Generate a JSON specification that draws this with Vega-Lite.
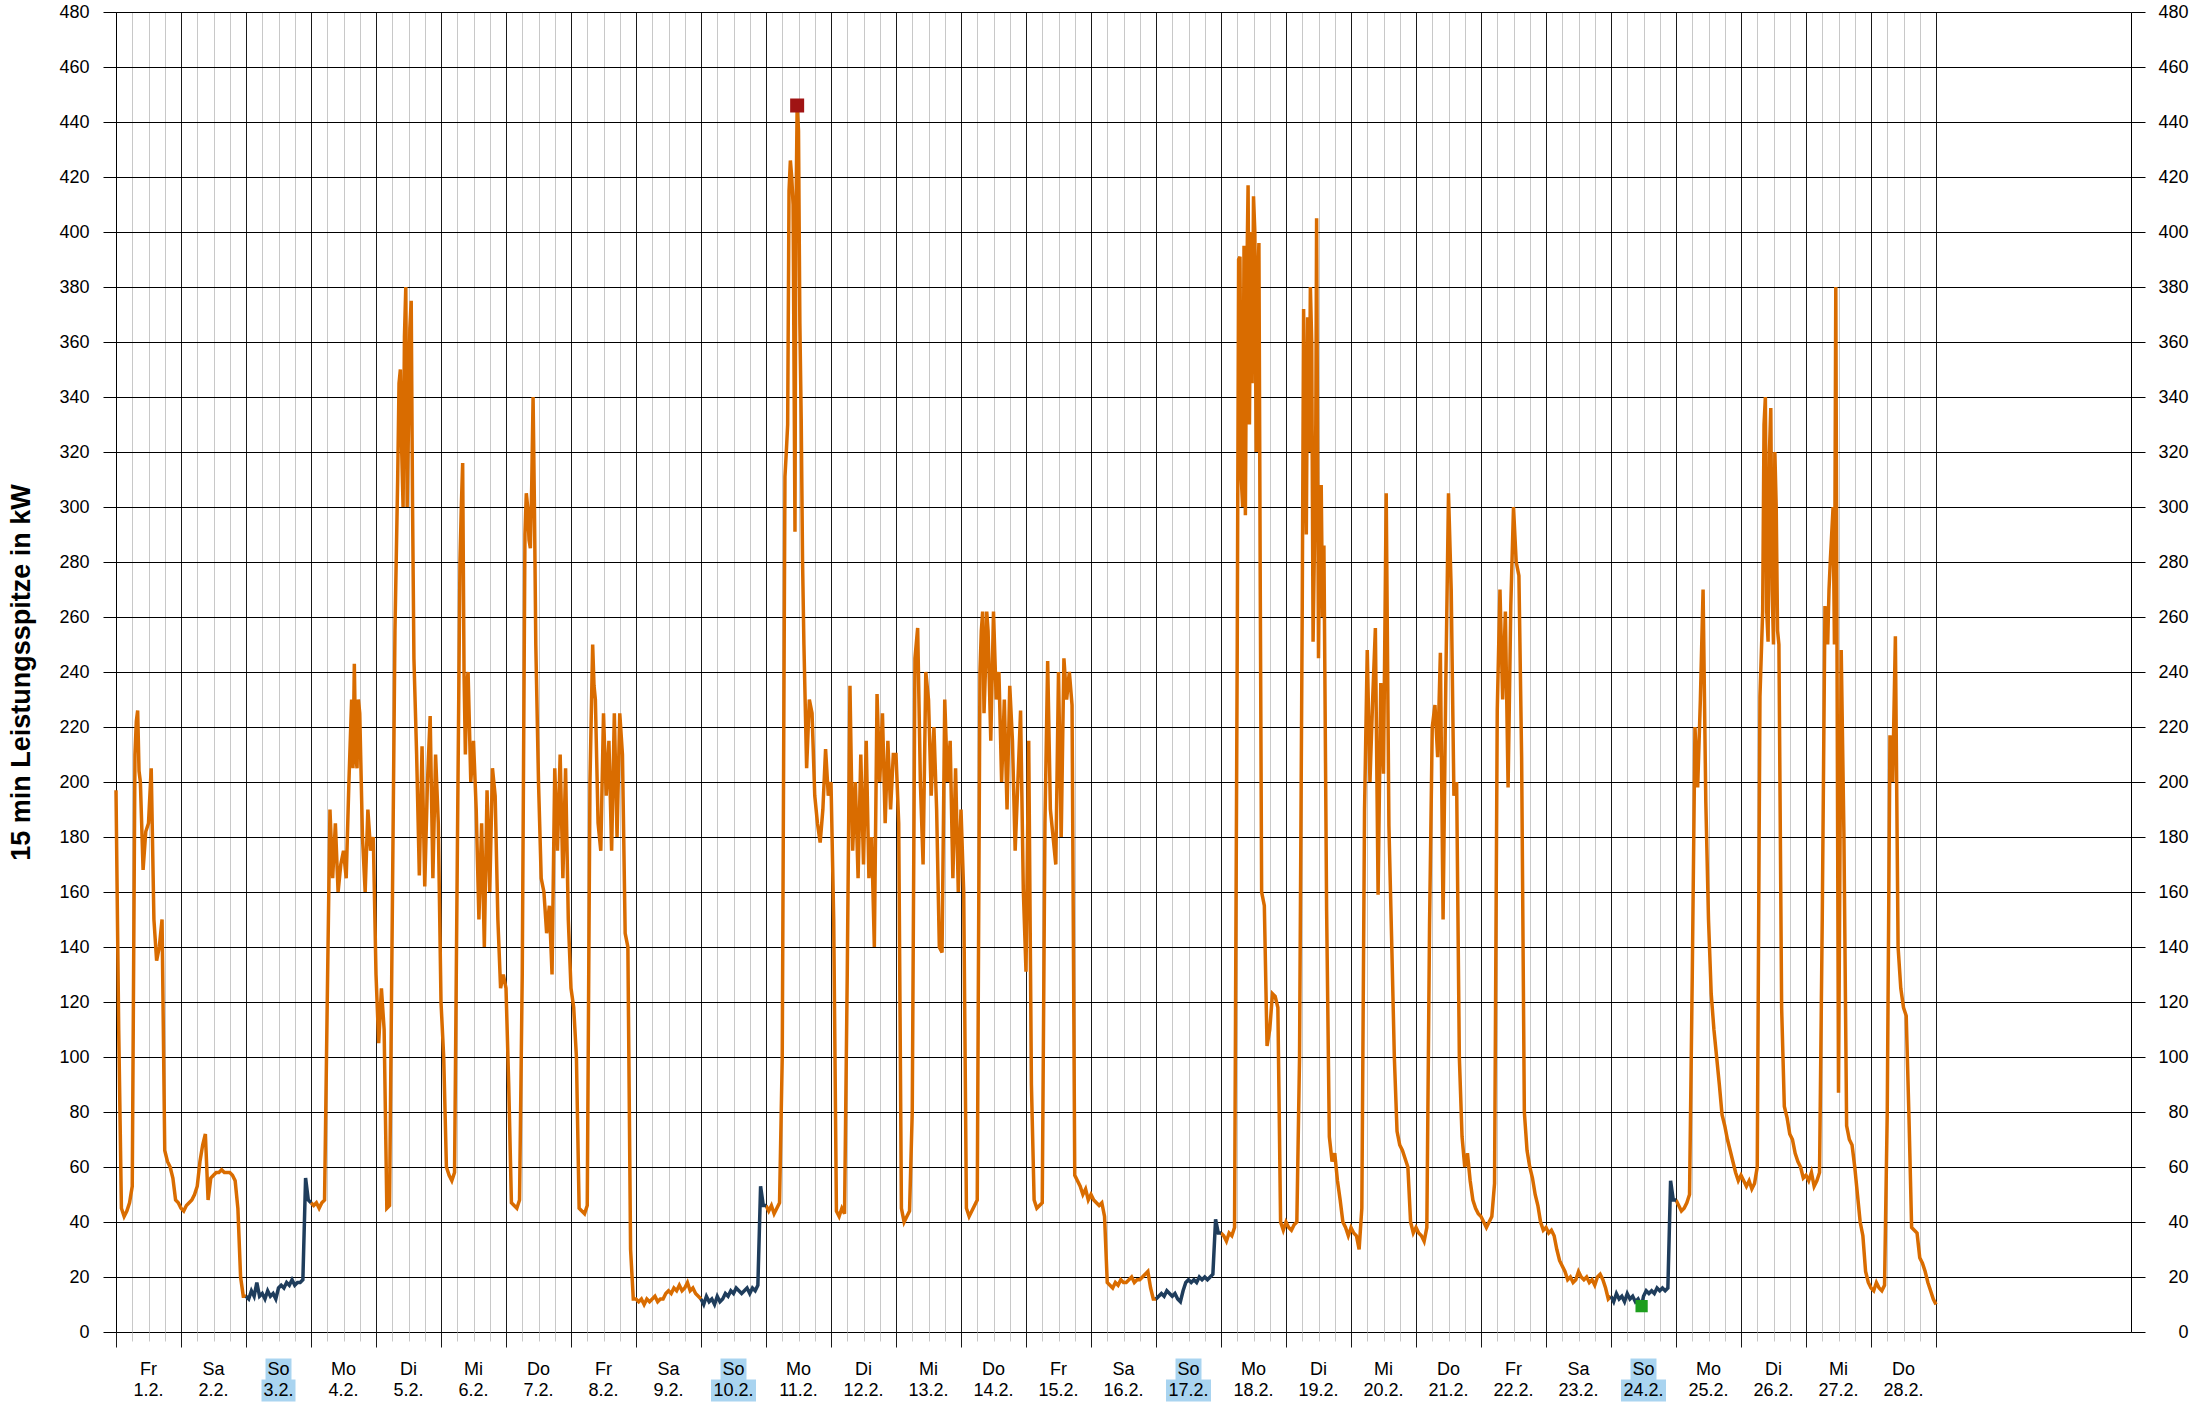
{
"$schema": "https://vega.github.io/schema/vega-lite/v6.json",
"background": "white",
"padding": {"left": 7, "top": 3, "right": 5, "bottom": 0},
"config": {"view": {"stroke": null}, "font": "Liberation Sans", "text": {"font": "Liberation Sans"}, "axis": {"labelFont": "Liberation Sans", "titleFont": "Liberation Sans"}},
"spacing": 10,
"datasets": {
"p": [
{"t":0,"v":197},{"t":1,"v":110},{"t":2,"v":45},{"t":3,"v":42},{"t":4,"v":44},{"t":5,"v":47},{"t":6,"v":53},{"t":7,"v":210},{"t":7.5,"v":222},{"t":8,"v":226},{"t":8.5,"v":204},{"t":9,"v":200},{"t":10,"v":168},{"t":11,"v":182},{"t":12,"v":185},{"t":13,"v":205},{"t":14,"v":150},{"t":15,"v":135},{"t":16,"v":140},{"t":17,"v":150},{"t":18,"v":66},{"t":19,"v":62},{"t":20,"v":60},{"t":21,"v":56},{"t":22,"v":48},{"t":23,"v":47},
{"t":24,"v":45},{"t":25,"v":44},{"t":26,"v":46},{"t":27,"v":47},{"t":28,"v":48},{"t":29,"v":50},{"t":30,"v":53},{"t":31,"v":62},{"t":32,"v":68},{"t":33,"v":72},{"t":34,"v":48},{"t":35,"v":56},{"t":36,"v":57},{"t":37,"v":58},{"t":38,"v":58},{"t":39,"v":59},{"t":40,"v":58},{"t":41,"v":58},{"t":42,"v":58},{"t":43,"v":57},{"t":44,"v":55},{"t":45,"v":45},{"t":46,"v":20},{"t":47,"v":13},
{"t":48,"v":13},{"t":49,"v":12},{"t":50,"v":15},{"t":51,"v":13},{"t":52,"v":18},{"t":53,"v":13},{"t":54,"v":14},{"t":55,"v":12},{"t":56,"v":15},{"t":57,"v":13},{"t":58,"v":14},{"t":59,"v":12},{"t":60,"v":16},{"t":61,"v":17},{"t":62,"v":16},{"t":63,"v":18},{"t":64,"v":17},{"t":65,"v":19},{"t":66,"v":17},{"t":67,"v":18},{"t":68,"v":18},{"t":69,"v":19},{"t":70,"v":56},{"t":71,"v":48},
{"t":72,"v":47},{"t":73,"v":46},{"t":74,"v":47},{"t":75,"v":45},{"t":76,"v":47},{"t":77,"v":48},{"t":78,"v":120},{"t":79,"v":190},{"t":80,"v":165},{"t":81,"v":185},{"t":82,"v":160},{"t":83,"v":170},{"t":84,"v":175},{"t":85,"v":165},{"t":86,"v":200},{"t":87,"v":230},{"t":87.5,"v":205},{"t":88,"v":243},{"t":88.5,"v":210},{"t":89,"v":205},{"t":89.5,"v":230},{"t":90,"v":225},{"t":91,"v":180},{"t":92,"v":160},{"t":93,"v":190},{"t":94,"v":175},{"t":95,"v":180},
{"t":96,"v":130},{"t":97,"v":105},{"t":98,"v":125},{"t":99,"v":110},{"t":100,"v":45},{"t":101,"v":46},{"t":102,"v":150},{"t":103,"v":255},{"t":104,"v":310},{"t":104.5,"v":345},{"t":105,"v":350},{"t":105.5,"v":320},{"t":106,"v":300},{"t":106.5,"v":362},{"t":107,"v":380},{"t":107.5,"v":300},{"t":108,"v":330},{"t":108.5,"v":365},{"t":109,"v":375},{"t":109.5,"v":300},{"t":110,"v":245},{"t":111,"v":210},{"t":112,"v":166},{"t":113,"v":213},{"t":114,"v":162},{"t":115,"v":200},{"t":116,"v":224},{"t":117,"v":165},{"t":118,"v":210},{"t":119,"v":185},
{"t":120,"v":120},{"t":121,"v":100},{"t":122,"v":60},{"t":123,"v":57},{"t":124,"v":55},{"t":125,"v":58},{"t":126,"v":170},{"t":127,"v":280},{"t":127.5,"v":300},{"t":128,"v":316},{"t":128.5,"v":240},{"t":129,"v":210},{"t":129.5,"v":235},{"t":130,"v":240},{"t":131,"v":200},{"t":132,"v":215},{"t":133,"v":190},{"t":134,"v":150},{"t":135,"v":185},{"t":136,"v":140},{"t":137,"v":197},{"t":138,"v":160},{"t":139,"v":205},{"t":140,"v":195},{"t":141,"v":150},{"t":142,"v":125},{"t":143,"v":130},
{"t":144,"v":125},{"t":145,"v":90},{"t":146,"v":47},{"t":147,"v":46},{"t":148,"v":45},{"t":149,"v":48},{"t":150,"v":130},{"t":151,"v":290},{"t":151.5,"v":305},{"t":152,"v":300},{"t":152.5,"v":288},{"t":153,"v":285},{"t":153.5,"v":308},{"t":154,"v":340},{"t":154.5,"v":300},{"t":155,"v":250},{"t":156,"v":200},{"t":157,"v":165},{"t":158,"v":160},{"t":159,"v":145},{"t":160,"v":155},{"t":161,"v":130},{"t":162,"v":205},{"t":163,"v":175},{"t":164,"v":210},{"t":165,"v":165},{"t":166,"v":205},{"t":167,"v":150},
{"t":168,"v":125},{"t":169,"v":118},{"t":170,"v":100},{"t":171,"v":45},{"t":172,"v":44},{"t":173,"v":43},{"t":174,"v":46},{"t":175,"v":200},{"t":176,"v":250},{"t":176.5,"v":235},{"t":177,"v":230},{"t":178,"v":185},{"t":179,"v":175},{"t":180,"v":225},{"t":181,"v":195},{"t":182,"v":215},{"t":183,"v":175},{"t":184,"v":225},{"t":185,"v":180},{"t":186,"v":225},{"t":187,"v":210},{"t":188,"v":145},{"t":189,"v":140},{"t":190,"v":30},{"t":191,"v":12},
{"t":192,"v":12},{"t":193,"v":11},{"t":194,"v":12},{"t":195,"v":10},{"t":196,"v":12},{"t":197,"v":11},{"t":198,"v":12},{"t":199,"v":13},{"t":200,"v":11},{"t":201,"v":12},{"t":202,"v":12},{"t":203,"v":14},{"t":204,"v":15},{"t":205,"v":14},{"t":206,"v":16},{"t":207,"v":15},{"t":208,"v":17},{"t":209,"v":15},{"t":210,"v":16},{"t":211,"v":18},{"t":212,"v":15},{"t":213,"v":16},{"t":214,"v":14},{"t":215,"v":13},
{"t":216,"v":12},{"t":217,"v":10},{"t":218,"v":13},{"t":219,"v":11},{"t":220,"v":12},{"t":221,"v":10},{"t":222,"v":13},{"t":223,"v":11},{"t":224,"v":12},{"t":225,"v":14},{"t":226,"v":13},{"t":227,"v":15},{"t":228,"v":14},{"t":229,"v":16},{"t":230,"v":15},{"t":231,"v":14},{"t":232,"v":15},{"t":233,"v":16},{"t":234,"v":14},{"t":235,"v":16},{"t":236,"v":15},{"t":237,"v":17},{"t":238,"v":53},{"t":239,"v":46},
{"t":240,"v":46},{"t":241,"v":44},{"t":242,"v":46},{"t":243,"v":43},{"t":244,"v":45},{"t":245,"v":47},{"t":246,"v":100},{"t":247,"v":311},{"t":247.5,"v":320},{"t":248,"v":330},{"t":248.5,"v":415},{"t":249,"v":426},{"t":249.5,"v":420},{"t":250,"v":410},{"t":250.7,"v":291},{"t":251,"v":400},{"t":251.5,"v":446},{"t":252,"v":437},{"t":252.5,"v":367},{"t":253,"v":332},{"t":253.5,"v":280},{"t":254,"v":250},{"t":255,"v":205},{"t":256,"v":230},{"t":257,"v":225},{"t":258,"v":195},{"t":259,"v":185},{"t":260,"v":178},{"t":261,"v":190},{"t":262,"v":212},{"t":263,"v":195},
{"t":264,"v":200},{"t":265,"v":150},{"t":266,"v":44},{"t":267,"v":42},{"t":268,"v":45},{"t":269,"v":43},{"t":270,"v":130},{"t":271,"v":235},{"t":272,"v":175},{"t":273,"v":200},{"t":274,"v":165},{"t":275,"v":210},{"t":276,"v":170},{"t":277,"v":215},{"t":278,"v":165},{"t":279,"v":180},{"t":280,"v":140},{"t":281,"v":232},{"t":282,"v":200},{"t":283,"v":225},{"t":284,"v":185},{"t":285,"v":215},{"t":286,"v":190},{"t":287,"v":210},
{"t":288,"v":210},{"t":289,"v":185},{"t":290,"v":45},{"t":291,"v":40},{"t":292,"v":42},{"t":293,"v":44},{"t":294,"v":80},{"t":295,"v":245},{"t":296,"v":256},{"t":297,"v":200},{"t":298,"v":170},{"t":299,"v":240},{"t":300,"v":230},{"t":301,"v":195},{"t":302,"v":220},{"t":303,"v":190},{"t":304,"v":140},{"t":305,"v":138},{"t":306,"v":230},{"t":307,"v":200},{"t":308,"v":215},{"t":309,"v":165},{"t":310,"v":205},{"t":311,"v":160},
{"t":312,"v":190},{"t":313,"v":160},{"t":314,"v":45},{"t":315,"v":42},{"t":316,"v":44},{"t":317,"v":46},{"t":318,"v":48},{"t":319,"v":240},{"t":319.5,"v":255},{"t":320,"v":262},{"t":320.5,"v":225},{"t":321,"v":240},{"t":321.5,"v":262},{"t":322,"v":255},{"t":323,"v":215},{"t":324,"v":262},{"t":325,"v":230},{"t":326,"v":240},{"t":327,"v":200},{"t":328,"v":230},{"t":329,"v":190},{"t":330,"v":235},{"t":331,"v":215},{"t":332,"v":175},{"t":333,"v":200},{"t":334,"v":226},{"t":335,"v":161},
{"t":336,"v":131},{"t":337,"v":215},{"t":338,"v":90},{"t":339,"v":48},{"t":340,"v":45},{"t":341,"v":46},{"t":342,"v":47},{"t":343,"v":185},{"t":344,"v":244},{"t":345,"v":190},{"t":346,"v":180},{"t":347,"v":170},{"t":348,"v":240},{"t":349,"v":180},{"t":350,"v":245},{"t":351,"v":230},{"t":352,"v":240},{"t":353,"v":228},{"t":354,"v":57},{"t":355,"v":55},{"t":356,"v":53},{"t":357,"v":50},{"t":358,"v":52},{"t":359,"v":48},
{"t":360,"v":50},{"t":361,"v":48},{"t":362,"v":47},{"t":363,"v":46},{"t":364,"v":47},{"t":365,"v":42},{"t":366,"v":18},{"t":367,"v":17},{"t":368,"v":16},{"t":369,"v":18},{"t":370,"v":17},{"t":371,"v":19},{"t":372,"v":18},{"t":373,"v":18},{"t":374,"v":19},{"t":375,"v":20},{"t":376,"v":18},{"t":377,"v":19},{"t":378,"v":19},{"t":379,"v":20},{"t":380,"v":21},{"t":381,"v":22},{"t":382,"v":16},{"t":383,"v":12},
{"t":384,"v":12},{"t":385,"v":13},{"t":386,"v":14},{"t":387,"v":13},{"t":388,"v":15},{"t":389,"v":14},{"t":390,"v":13},{"t":391,"v":14},{"t":392,"v":12},{"t":393,"v":11},{"t":394,"v":15},{"t":395,"v":18},{"t":396,"v":19},{"t":397,"v":18},{"t":398,"v":19},{"t":399,"v":18},{"t":400,"v":20},{"t":401,"v":19},{"t":402,"v":20},{"t":403,"v":19},{"t":404,"v":20},{"t":405,"v":21},{"t":406,"v":41},{"t":407,"v":36},
{"t":408,"v":36},{"t":409,"v":35},{"t":410,"v":33},{"t":411,"v":36},{"t":412,"v":35},{"t":413,"v":38},{"t":414,"v":250},{"t":414.5,"v":390},{"t":415,"v":391},{"t":415.5,"v":310},{"t":416,"v":300},{"t":416.5,"v":395},{"t":417,"v":297},{"t":417.5,"v":380},{"t":418,"v":417},{"t":418.5,"v":330},{"t":419,"v":400},{"t":419.5,"v":345},{"t":420,"v":413},{"t":420.5,"v":400},{"t":421,"v":320},{"t":421.5,"v":380},{"t":422,"v":396},{"t":422.5,"v":270},{"t":423,"v":160},{"t":424,"v":155},{"t":425,"v":104},{"t":426,"v":110},{"t":427,"v":123},{"t":428,"v":122},{"t":429,"v":118},{"t":430,"v":40},{"t":431,"v":37},
{"t":432,"v":40},{"t":433,"v":38},{"t":434,"v":37},{"t":435,"v":39},{"t":436,"v":40},{"t":437,"v":100},{"t":438,"v":264},{"t":438.5,"v":372},{"t":439,"v":325},{"t":439.5,"v":290},{"t":440,"v":369},{"t":440.5,"v":320},{"t":441,"v":380},{"t":441.5,"v":360},{"t":442,"v":251},{"t":442.5,"v":286},{"t":443,"v":330},{"t":443.3,"v":405},{"t":444,"v":245},{"t":444.5,"v":300},{"t":445,"v":308},{"t":445.5,"v":260},{"t":446,"v":286},{"t":447,"v":153},{"t":448,"v":71},{"t":449,"v":62},{"t":450,"v":65},{"t":451,"v":55},{"t":452,"v":48},{"t":453,"v":40},{"t":454,"v":38},{"t":455,"v":35},
{"t":456,"v":38},{"t":457,"v":36},{"t":458,"v":35},{"t":459,"v":30},{"t":460,"v":45},{"t":461,"v":190},{"t":462,"v":248},{"t":463,"v":200},{"t":464,"v":230},{"t":465,"v":256},{"t":466,"v":159},{"t":467,"v":236},{"t":468,"v":203},{"t":469,"v":305},{"t":470,"v":184},{"t":471,"v":143},{"t":472,"v":100},{"t":473,"v":73},{"t":474,"v":68},{"t":475,"v":66},{"t":476,"v":63},{"t":477,"v":60},{"t":478,"v":40},{"t":479,"v":36},
{"t":480,"v":38},{"t":481,"v":36},{"t":482,"v":35},{"t":483,"v":33},{"t":484,"v":38},{"t":485,"v":148},{"t":486,"v":220},{"t":487,"v":228},{"t":488,"v":209},{"t":489,"v":247},{"t":490,"v":150},{"t":491,"v":236},{"t":492,"v":305},{"t":493,"v":270},{"t":494,"v":195},{"t":495,"v":200},{"t":496,"v":100},{"t":497,"v":71},{"t":498,"v":60},{"t":499,"v":65},{"t":500,"v":55},{"t":501,"v":48},{"t":502,"v":45},{"t":503,"v":43},
{"t":504,"v":42},{"t":505,"v":40},{"t":506,"v":38},{"t":507,"v":40},{"t":508,"v":42},{"t":509,"v":54},{"t":510,"v":226},{"t":511,"v":270},{"t":512,"v":230},{"t":513,"v":262},{"t":514,"v":198},{"t":515,"v":264},{"t":516,"v":300},{"t":517,"v":280},{"t":518,"v":275},{"t":519,"v":209},{"t":520,"v":80},{"t":521,"v":66},{"t":522,"v":60},{"t":523,"v":56},{"t":524,"v":50},{"t":525,"v":46},{"t":526,"v":40},{"t":527,"v":37},
{"t":528,"v":38},{"t":529,"v":36},{"t":530,"v":37},{"t":531,"v":35},{"t":532,"v":30},{"t":533,"v":26},{"t":534,"v":24},{"t":535,"v":22},{"t":536,"v":19},{"t":537,"v":20},{"t":538,"v":18},{"t":539,"v":19},{"t":540,"v":22},{"t":541,"v":20},{"t":542,"v":19},{"t":543,"v":20},{"t":544,"v":18},{"t":545,"v":19},{"t":546,"v":17},{"t":547,"v":20},{"t":548,"v":21},{"t":549,"v":19},{"t":550,"v":16},{"t":551,"v":12},
{"t":552,"v":13},{"t":553,"v":11},{"t":554,"v":14},{"t":555,"v":12},{"t":556,"v":13},{"t":557,"v":11},{"t":558,"v":14},{"t":559,"v":12},{"t":560,"v":13},{"t":561,"v":11},{"t":562,"v":12},{"t":563,"v":10},{"t":563.3,"v":9.4},{"t":564,"v":13},{"t":565,"v":15},{"t":566,"v":14},{"t":567,"v":15},{"t":568,"v":14},{"t":569,"v":16},{"t":570,"v":15},{"t":571,"v":16},{"t":572,"v":15},{"t":573,"v":16},{"t":574,"v":55},{"t":575,"v":48},
{"t":576,"v":48},{"t":577,"v":46},{"t":578,"v":44},{"t":579,"v":45},{"t":580,"v":47},{"t":581,"v":50},{"t":582,"v":129},{"t":583,"v":220},{"t":584,"v":198},{"t":585,"v":230},{"t":586,"v":270},{"t":587,"v":193},{"t":588,"v":150},{"t":589,"v":123},{"t":590,"v":110},{"t":591,"v":100},{"t":592,"v":90},{"t":593,"v":79},{"t":594,"v":75},{"t":595,"v":70},{"t":596,"v":66},{"t":597,"v":62},{"t":598,"v":58},{"t":599,"v":55},
{"t":600,"v":57},{"t":601,"v":55},{"t":602,"v":53},{"t":603,"v":55},{"t":604,"v":52},{"t":605,"v":54},{"t":606,"v":60},{"t":607,"v":231},{"t":608,"v":262},{"t":608.5,"v":330},{"t":609,"v":340},{"t":609.5,"v":262},{"t":610,"v":251},{"t":610.5,"v":320},{"t":611,"v":336},{"t":611.5,"v":270},{"t":612,"v":250},{"t":612.5,"v":320},{"t":613,"v":300},{"t":613.5,"v":255},{"t":614,"v":250},{"t":615,"v":118},{"t":616,"v":82},{"t":617,"v":78},{"t":618,"v":72},{"t":619,"v":70},{"t":620,"v":65},{"t":621,"v":62},{"t":622,"v":60},{"t":623,"v":56},
{"t":624,"v":57},{"t":625,"v":55},{"t":626,"v":58},{"t":627,"v":53},{"t":628,"v":55},{"t":629,"v":58},{"t":630,"v":150},{"t":631,"v":264},{"t":632,"v":250},{"t":632.5,"v":270},{"t":633,"v":281},{"t":634,"v":300},{"t":634.5,"v":250},{"t":635,"v":380},{"t":636,"v":87},{"t":637,"v":248},{"t":638,"v":181},{"t":639,"v":75},{"t":640,"v":70},{"t":641,"v":68},{"t":642,"v":60},{"t":643,"v":50},{"t":644,"v":40},{"t":645,"v":35},{"t":646,"v":22},{"t":647,"v":18},
{"t":648,"v":16},{"t":649,"v":15},{"t":650,"v":18},{"t":651,"v":16},{"t":652,"v":15},{"t":653,"v":17},{"t":654,"v":80},{"t":655,"v":217},{"t":656,"v":200},{"t":657,"v":253},{"t":658,"v":140},{"t":659,"v":125},{"t":660,"v":118},{"t":661,"v":115},{"t":662,"v":79},{"t":663,"v":38},{"t":664,"v":37},{"t":665,"v":36},{"t":666,"v":27},{"t":667,"v":25},{"t":668,"v":22},{"t":669,"v":18},{"t":670,"v":15},{"t":671,"v":12},{"t":672,"v":10}
],
"days": [
{"d":1,"wd":"Fr","dt":"1.2.","so":0},{"d":2,"wd":"Sa","dt":"2.2.","so":0},{"d":3,"wd":"So","dt":"3.2.","so":1},{"d":4,"wd":"Mo","dt":"4.2.","so":0},{"d":5,"wd":"Di","dt":"5.2.","so":0},{"d":6,"wd":"Mi","dt":"6.2.","so":0},{"d":7,"wd":"Do","dt":"7.2.","so":0},
{"d":8,"wd":"Fr","dt":"8.2.","so":0},{"d":9,"wd":"Sa","dt":"9.2.","so":0},{"d":10,"wd":"So","dt":"10.2.","so":1},{"d":11,"wd":"Mo","dt":"11.2.","so":0},{"d":12,"wd":"Di","dt":"12.2.","so":0},{"d":13,"wd":"Mi","dt":"13.2.","so":0},{"d":14,"wd":"Do","dt":"14.2.","so":0},
{"d":15,"wd":"Fr","dt":"15.2.","so":0},{"d":16,"wd":"Sa","dt":"16.2.","so":0},{"d":17,"wd":"So","dt":"17.2.","so":1},{"d":18,"wd":"Mo","dt":"18.2.","so":0},{"d":19,"wd":"Di","dt":"19.2.","so":0},{"d":20,"wd":"Mi","dt":"20.2.","so":0},{"d":21,"wd":"Do","dt":"21.2.","so":0},
{"d":22,"wd":"Fr","dt":"22.2.","so":0},{"d":23,"wd":"Sa","dt":"23.2.","so":0},{"d":24,"wd":"So","dt":"24.2.","so":1},{"d":25,"wd":"Mo","dt":"25.2.","so":0},{"d":26,"wd":"Di","dt":"26.2.","so":0},{"d":27,"wd":"Mi","dt":"27.2.","so":0},{"d":28,"wd":"Do","dt":"28.2.","so":0}
]
},
"vconcat": [
{
"width": 2015, "height": 1320,
"data": {"name": "p"},
"transform": [{"calculate": "floor(datum.t/24)%7", "as": "wd"}],
"resolve": {"axis": {"x": "independent", "y": "independent"}},
"layer": [
{
"transform": [{"filter": "datum.wd != 2 || datum.t % 24 == 0"}, {"calculate": "floor((datum.t+96)/168)", "as": "seg"}],
"mark": {"type": "line", "color": "#D96C00", "strokeWidth": 3.5},
"encoding": {
"x": {"field": "t", "type": "quantitative", "scale": {"domain": [0, 744], "nice": false, "zero": false},
"axis": {"orient": "bottom", "values": [6,12,18,30,36,42,54,60,66,78,84,90,102,108,114,126,132,138,150,156,162,174,180,186,198,204,210,222,228,234,246,252,258,270,276,282,294,300,306,318,324,330,342,348,354,366,372,378,390,396,402,414,420,426,438,444,450,462,468,474,486,492,498,510,516,522,534,540,546,558,564,570,582,588,594,606,612,618,630,636,642,654,660,666],
"grid": true, "gridColor": "#c8c8c8", "gridWidth": 1, "ticks": true, "tickColor": "#c8c8c8", "tickSize": 9, "labels": false, "domain": false, "title": null}},
"y": {"field": "v", "type": "quantitative", "scale": {"domain": [0, 480], "nice": false},
"axis": {"orient": "left", "values": [0,20,40,60,80,100,120,140,160,180,200,220,240,260,280,300,320,340,360,380,400,420,440,460,480],
"grid": true, "gridColor": "#000000", "gridWidth": 1, "tickColor": "#000000", "tickSize": 13, "labelFontSize": 18, "labelColor": "#000000", "labelPadding": 14, "domainColor": "#000000",
"title": "15 min Leistungsspitze in kW", "titleFontSize": 27, "titleFontWeight": "bold", "titleColor": "#000000", "titlePadding": 23}},
"detail": {"field": "seg", "type": "nominal"}
}
},
{
"transform": [{"filter": "datum.wd == 2 || (datum.t % 24 == 0 && datum.wd == 3)"}, {"calculate": "floor((datum.t+95)/168)", "as": "seg"}],
"mark": {"type": "line", "color": "#1F3D5C", "strokeWidth": 3.5},
"encoding": {
"x": {"field": "t", "type": "quantitative", "scale": {"domain": [0, 744], "nice": false, "zero": false},
"axis": {"orient": "bottom", "values": [0,24,48,72,96,120,144,168,192,216,240,264,288,312,336,360,384,408,432,456,480,504,528,552,576,600,624,648,672],
"grid": true, "gridColor": "#1a1a1a", "gridWidth": 1, "ticks": true, "tickColor": "#1a1a1a", "tickSize": 15, "labels": false, "domain": false, "title": null}},
"y": {"field": "v", "type": "quantitative", "scale": {"domain": [0, 480], "nice": false},
"axis": {"orient": "right", "values": [0,20,40,60,80,100,120,140,160,180,200,220,240,260,280,300,320,340,360,380,400,420,440,460,480],
"grid": false, "tickColor": "#000000", "tickSize": 14, "labelFontSize": 18, "labelColor": "#000000", "labelAlign": "right", "labelPadding": 43, "domainColor": "#000000", "title": null}},
"detail": {"field": "seg", "type": "nominal"}
}
},
{
"transform": [{"joinaggregate": [{"op": "min", "field": "v", "as": "mn"}]}, {"filter": "datum.v == datum.mn"}],
"mark": {"type": "square", "size": 150, "color": "#1E9E1E", "filled": true, "opacity": 1},
"encoding": {
"x": {"field": "t", "type": "quantitative", "axis": null},
"y": {"field": "v", "type": "quantitative", "axis": null}
}
},
{
"transform": [{"joinaggregate": [{"op": "max", "field": "v", "as": "mx"}]}, {"filter": "datum.v == datum.mx"}],
"mark": {"type": "square", "size": 196, "color": "#A01414", "filled": true, "opacity": 1},
"encoding": {
"x": {"field": "t", "type": "quantitative", "axis": null},
"y": {"field": "v", "type": "quantitative", "axis": null}
}
}
]
},
{
"width": 2015, "height": 42,
"data": {"name": "days"},
"encoding": {"x": {"field": "d", "type": "quantitative", "scale": {"domain": [0.5, 31.5], "nice": false, "zero": false}, "axis": null}},
"layer": [
{"transform": [{"filter": "datum.so == 1"}], "mark": {"type": "rect", "width": 26, "height": 22, "color": "#A9D4F0"},
"encoding": {"y": {"datum": "a", "type": "nominal", "scale": {"domain": ["a", "b"], "paddingInner": 0, "paddingOuter": 0}, "axis": null}}},
{"transform": [{"filter": "datum.so == 1 && datum.d < 10"}], "mark": {"type": "rect", "width": 34, "height": 22, "color": "#A9D4F0"},
"encoding": {"y": {"datum": "b", "type": "nominal", "scale": {"domain": ["a", "b"], "paddingInner": 0, "paddingOuter": 0}, "axis": null}}},
{"transform": [{"filter": "datum.so == 1 && datum.d >= 10"}], "mark": {"type": "rect", "width": 45, "height": 22, "color": "#A9D4F0"},
"encoding": {"y": {"datum": "b", "type": "nominal", "scale": {"domain": ["a", "b"], "paddingInner": 0, "paddingOuter": 0}, "axis": null}}},
{"mark": {"type": "text", "fontSize": 18, "color": "#000000", "align": "center", "baseline": "middle"},
"encoding": {"text": {"field": "wd"}, "y": {"datum": "a", "type": "nominal", "scale": {"domain": ["a", "b"], "paddingInner": 0, "paddingOuter": 0}, "axis": null}}},
{"mark": {"type": "text", "fontSize": 18, "color": "#000000", "align": "center", "baseline": "middle"},
"encoding": {"text": {"field": "dt"}, "y": {"datum": "b", "type": "nominal", "scale": {"domain": ["a", "b"], "paddingInner": 0, "paddingOuter": 0}, "axis": null}}}
]
}
]
}
